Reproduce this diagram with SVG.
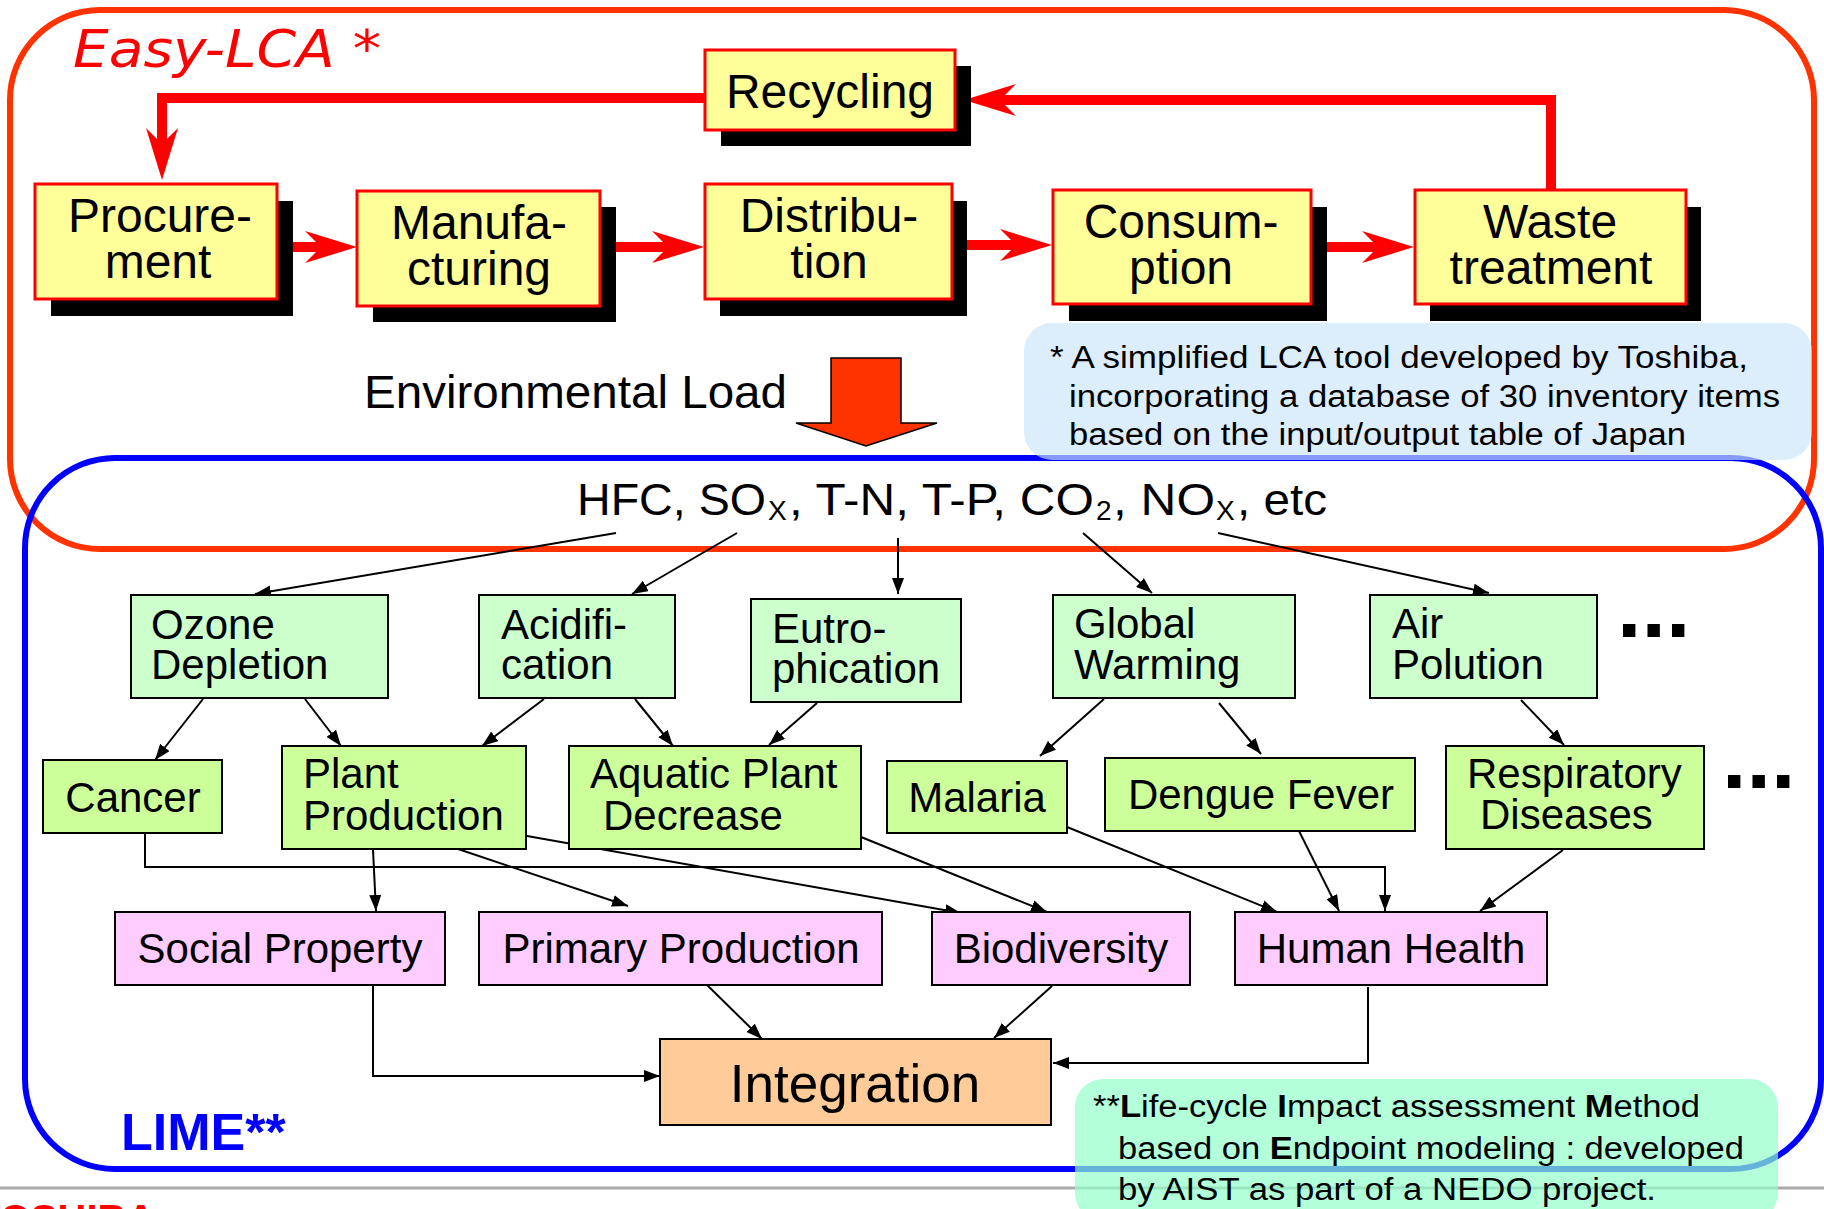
<svg xmlns="http://www.w3.org/2000/svg" xmlns:xlink="http://www.w3.org/1999/xlink" width="1824" height="1209" viewBox="0 0 1824 1209">
<style>
  .f { font-family: "Liberation Sans", Arial, sans-serif; fill: #000; }
  .t48 { font-size: 48px; text-anchor: middle; }
  .t42 { font-size: 42px; }
  .mid { text-anchor: middle; }
  .yb { fill: #FFFF99; stroke: #FF0000; stroke-width: 3; }
  .sh { fill: #000; }
  .g1 { fill: #CCFFCC; stroke: #000; stroke-width: 2; }
  .g2 { fill: #CCFF99; stroke: #000; stroke-width: 2; }
  .p3 { fill: #FFCCFF; stroke: #000; stroke-width: 2; }
  .ig { fill: #FFCC99; stroke: #000; stroke-width: 2; }
  .rc { stroke: #FF0000; stroke-width: 10; fill: none; }
  .c { stroke: #000; stroke-width: 2; fill: none; marker-end: url(#ah); }
  .note { font-size: 31px; }
</style>
<defs>
  <marker id="ah" viewBox="0 0 16 12" refX="16" refY="6" markerWidth="16" markerHeight="12" markerUnits="userSpaceOnUse" orient="auto">
    <path d="M0,0 L16,6 L0,12 z" fill="#000"/>
  </marker>
  <path id="rh" d="M0,0 L-52,-16 L-36,0 L-52,16 z" fill="#FF0000"/>
</defs>

<rect width="1824" height="1209" fill="#FFFFFF"/>

<!-- frames -->
<g id="easy-lca-frame">
  <rect x="10" y="10" width="1804" height="539" rx="90" ry="90" fill="none" stroke="#FF3300" stroke-width="6"/>
  <text x="73" y="67" font-family="'DejaVu Sans', Verdana, sans-serif" font-style="italic" font-size="52" fill="#FF0000" textLength="308" lengthAdjust="spacingAndGlyphs">Easy-LCA *</text>
</g>
<g id="lime-frame">
  <rect x="25" y="458" width="1796" height="711" rx="90" ry="90" fill="none" stroke="#0000FF" stroke-width="6"/>
  <text x="121" y="1150" class="f" font-size="52" font-weight="bold" style="fill:#0000FF">LIME**</text>
</g>

<!-- footer -->
<g id="footer">
  <line x1="0" y1="1188" x2="1824" y2="1188" stroke="#AAAAAA" stroke-width="3"/>
  <text x="-24" y="1233" class="f" font-size="40" font-weight="bold" style="fill:#FF0000">TOSHIBA</text>
</g>

<!-- connectors -->
<g id="connectors">
  <!-- red life-cycle flow -->
  <line class="rc" x1="279" y1="247" x2="322" y2="247"/>
  <use xlink:href="#rh" href="#rh" transform="translate(357,247)"/>
  <line class="rc" x1="601" y1="247" x2="669" y2="247"/>
  <use xlink:href="#rh" href="#rh" transform="translate(704,247)"/>
  <line class="rc" x1="953" y1="245" x2="1017" y2="245"/>
  <use xlink:href="#rh" href="#rh" transform="translate(1052,245)"/>
  <line class="rc" x1="1312" y1="247" x2="1379" y2="247"/>
  <use xlink:href="#rh" href="#rh" transform="translate(1414,247)"/>
  <polyline class="rc" points="1551,190 1551,100 999,100"/>
  <use xlink:href="#rh" href="#rh" transform="translate(964,100) rotate(180)"/>
  <polyline class="rc" points="705,98 162,98 162,145"/>
  <use xlink:href="#rh" href="#rh" transform="translate(162,180) rotate(90)"/>

  <!-- environmental load arrow -->
  <polygon points="831,358 901,358 901,423 937,423 866,446 796,423 831,423" fill="#FF3300" stroke="#000" stroke-width="1.5"/>

  <!-- inventory to midpoint -->
  <line class="c" x1="616" y1="533" x2="255" y2="594"/>
  <line class="c" x1="737" y1="533" x2="632" y2="594"/>
  <line class="c" x1="898" y1="538" x2="898" y2="594"/>
  <line class="c" x1="1083" y1="533" x2="1152" y2="593"/>
  <line class="c" x1="1218" y1="533" x2="1489" y2="593"/>

  <!-- midpoint to damage -->
  <line class="c" x1="203" y1="699" x2="155" y2="760"/>
  <line class="c" x1="305" y1="699" x2="341" y2="746"/>
  <line class="c" x1="544" y1="699" x2="482" y2="746"/>
  <line class="c" x1="635" y1="699" x2="673" y2="746"/>
  <line class="c" x1="817" y1="703" x2="769" y2="745"/>
  <line class="c" x1="1104" y1="699" x2="1040" y2="756"/>
  <line class="c" x1="1219" y1="703" x2="1261" y2="754"/>
  <line class="c" x1="1521" y1="700" x2="1564" y2="745"/>

  <!-- damage to endpoints -->
  <polyline class="c" points="145,834 145,867 1385,867 1385,911"/>
  <line class="c" x1="373" y1="850" x2="376" y2="911"/>
  <line class="c" x1="458" y1="849" x2="628" y2="906"/>
  <line class="c" x1="527" y1="836" x2="961" y2="913"/>
  <line class="c" x1="861" y1="837" x2="1047" y2="912"/>
  <line class="c" x1="1067" y1="827" x2="1277" y2="912"/>
  <line class="c" x1="1299" y1="831" x2="1339" y2="911"/>
  <line class="c" x1="1563" y1="850" x2="1480" y2="911"/>

  <!-- endpoints to integration -->
  <polyline class="c" points="373,980 373,1076 660,1076"/>
  <line class="c" x1="705" y1="983" x2="762" y2="1039"/>
  <line class="c" x1="1052" y1="986" x2="994" y2="1038"/>
  <polyline class="c" points="1368,987 1368,1063 1053,1063"/>
</g>

<!-- life-cycle stages -->
<g id="recycling">
  <rect class="sh" x="721" y="66" width="250" height="80"/>
  <rect class="yb" x="705" y="50" width="250" height="80"/>
  <text class="f t48" x="830" y="108">Recycling</text>
</g>
<g id="procurement">
  <rect class="sh" x="51" y="201" width="242" height="115"/>
  <rect class="yb" x="35" y="184" width="242" height="115"/>
  <text class="f t48" x="160" y="232">Procure-</text>
  <text class="f t48" x="158" y="278">ment</text>
</g>
<g id="manufacturing">
  <rect class="sh" x="373" y="207" width="243" height="115"/>
  <rect class="yb" x="357" y="191" width="243" height="115"/>
  <text class="f t48" x="479" y="239">Manufa-</text>
  <text class="f t48" x="479" y="285">cturing</text>
</g>
<g id="distribution">
  <rect class="sh" x="720" y="201" width="247" height="115"/>
  <rect class="yb" x="705" y="184" width="247" height="115"/>
  <text class="f t48" x="829" y="232">Distribu-</text>
  <text class="f t48" x="829" y="278">tion</text>
</g>
<g id="consumption">
  <rect class="sh" x="1069" y="207" width="258" height="114"/>
  <rect class="yb" x="1053" y="190" width="258" height="114"/>
  <text class="f t48" x="1181" y="238">Consum-</text>
  <text class="f t48" x="1181" y="284">ption</text>
</g>
<g id="waste-treatment">
  <rect class="sh" x="1430" y="207" width="271" height="114"/>
  <rect class="yb" x="1415" y="190" width="271" height="114"/>
  <text class="f t48" x="1550" y="238">Waste</text>
  <text class="f t48" x="1551" y="284">treatment</text>
</g>

<g id="environmental-load">
  <text class="f" x="364" y="408" font-size="46" textLength="423" lengthAdjust="spacingAndGlyphs">Environmental Load</text>
</g>

<g id="inventory">
  <text class="f" x="577" y="515" font-size="45" textLength="189" lengthAdjust="spacingAndGlyphs">HFC, SO</text>
  <text class="f" x="768" y="520" font-size="28">X</text>
  <text class="f" x="789" y="515" font-size="45" textLength="305" lengthAdjust="spacingAndGlyphs">, T-N, T-P, CO</text>
  <text class="f" x="1096" y="520" font-size="28">2</text>
  <text class="f" x="1113" y="515" font-size="45" textLength="102" lengthAdjust="spacingAndGlyphs">, NO</text>
  <text class="f" x="1216" y="520" font-size="28">X</text>
  <text class="f" x="1237" y="515" font-size="45" textLength="90" lengthAdjust="spacingAndGlyphs">, etc</text>
</g>

<!-- midpoint categories -->
<g id="ozone-depletion">
  <rect class="g1" x="131" y="595" width="257" height="103"/>
  <text class="f t42" x="151" y="639">Ozone</text>
  <text class="f t42" x="151" y="679">Depletion</text>
</g>
<g id="acidification">
  <rect class="g1" x="479" y="595" width="196" height="103"/>
  <text class="f t42" x="501" y="639">Acidifi-</text>
  <text class="f t42" x="501" y="679">cation</text>
</g>
<g id="eutrophication">
  <rect class="g1" x="751" y="599" width="210" height="103"/>
  <text class="f t42" x="772" y="643">Eutro-</text>
  <text class="f t42" x="772" y="683">phication</text>
</g>
<g id="global-warming">
  <rect class="g1" x="1053" y="595" width="242" height="103"/>
  <text class="f t42" x="1074" y="638">Global</text>
  <text class="f t42" x="1074" y="679">Warming</text>
</g>
<g id="air-polution">
  <rect class="g1" x="1370" y="595" width="227" height="103"/>
  <text class="f t42" x="1392" y="638">Air</text>
  <text class="f t42" x="1392" y="679">Polution</text>
</g>
<g id="more-midpoints">
  <text class="f" x="1617" y="637" font-size="88" font-weight="bold">...</text>
</g>

<!-- damage categories -->
<g id="cancer">
  <rect class="g2" x="43" y="760" width="179" height="73"/>
  <text class="f t42 mid" x="133" y="812">Cancer</text>
</g>
<g id="plant-production">
  <rect class="g2" x="282" y="746" width="244" height="103"/>
  <text class="f t42" x="303" y="788">Plant</text>
  <text class="f t42" x="303" y="830">Production</text>
</g>
<g id="aquatic-plant-decrease">
  <rect class="g2" x="569" y="746" width="292" height="103"/>
  <text class="f t42" x="590" y="788">Aquatic Plant</text>
  <text class="f t42" x="603" y="830">Decrease</text>
</g>
<g id="malaria">
  <rect class="g2" x="887" y="761" width="180" height="72"/>
  <text class="f t42 mid" x="977" y="812">Malaria</text>
</g>
<g id="dengue-fever">
  <rect class="g2" x="1105" y="758" width="310" height="73"/>
  <text class="f t42 mid" x="1261" y="809">Dengue Fever</text>
</g>
<g id="respiratory-diseases">
  <rect class="g2" x="1446" y="746" width="258" height="103"/>
  <text class="f t42" x="1467" y="788">Respiratory</text>
  <text class="f t42" x="1480" y="829">Diseases</text>
</g>
<g id="more-damages">
  <text class="f" x="1722" y="788" font-size="88" font-weight="bold">...</text>
</g>

<!-- endpoints -->
<g id="social-property">
  <rect class="p3" x="115" y="912" width="330" height="73"/>
  <text class="f t42 mid" x="280" y="963">Social Property</text>
</g>
<g id="primary-production">
  <rect class="p3" x="479" y="912" width="403" height="73"/>
  <text class="f t42 mid" x="681" y="963">Primary Production</text>
</g>
<g id="biodiversity">
  <rect class="p3" x="932" y="912" width="258" height="73"/>
  <text class="f t42 mid" x="1061" y="963">Biodiversity</text>
</g>
<g id="human-health">
  <rect class="p3" x="1235" y="912" width="312" height="73"/>
  <text class="f t42 mid" x="1391" y="963">Human Health</text>
</g>

<g id="integration">
  <rect class="ig" x="660" y="1039" width="391" height="86"/>
  <text class="f mid" x="855" y="1102" font-size="53">Integration</text>
</g>

<!-- notes -->
<g id="note-easy-lca">
  <rect x="1024" y="323" width="788" height="137" rx="28" ry="28" fill="rgb(203,228,251)" fill-opacity="0.67"/>
  <text class="f note" x="1050" y="368" textLength="698" lengthAdjust="spacingAndGlyphs">* A simplified LCA tool developed by Toshiba,</text>
  <text class="f note" x="1069" y="407" textLength="711" lengthAdjust="spacingAndGlyphs">incorporating a database of 30 inventory items</text>
  <text class="f note" x="1069" y="445" textLength="617" lengthAdjust="spacingAndGlyphs">based on the input/output table of Japan</text>
</g>
<g id="note-lime">
  <rect x="1075" y="1079" width="703" height="142" rx="28" ry="28" fill="rgb(146,255,201)" fill-opacity="0.7"/>
  <text class="f note" x="1093" y="1117" textLength="607" lengthAdjust="spacingAndGlyphs">**<tspan font-weight="bold">L</tspan>ife-cycle <tspan font-weight="bold">I</tspan>mpact assessment <tspan font-weight="bold">M</tspan>ethod</text>
  <text class="f note" x="1118" y="1159" textLength="626" lengthAdjust="spacingAndGlyphs">based on <tspan font-weight="bold">E</tspan>ndpoint modeling : developed</text>
  <text class="f note" x="1118" y="1200" textLength="538" lengthAdjust="spacingAndGlyphs">by AIST as part of a NEDO project.</text>
</g>
</svg>
